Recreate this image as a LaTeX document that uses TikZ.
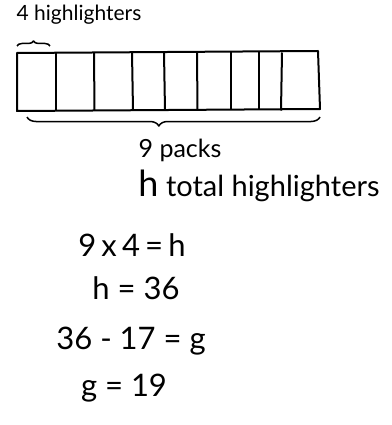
\documentclass[tikz,border=0pt]{standalone}
\usepackage{fontspec}
\setmainfont{Lato}
\usetikzlibrary{decorations.pathreplacing}
\begin{document}
\begin{tikzpicture}[x=1pt,y=1pt,line width=2pt,line join=round,
    label/.style={inner sep=0pt,font=\fontsize{21}{24}\selectfont},
    eqn/.style={inner sep=0pt,font=\fontsize{31}{34}\selectfont}]
    \useasboundingbox (0,0) rectangle (391,-425);

    % Bar of packs
    \draw (17,-53) -- (318,-51) -- (320,-109) -- (17,-111) -- cycle;
    \foreach \x/\d in {56/0, 94/0.5, 132/1, 164/1, 197/0.5, 231/0, 259/0, 282/-1}
        \draw (\x,-52.5) -- (\x+\d,-110.5);

    % Braces
    \draw[line width=1.5pt,decorate,decoration={brace,amplitude=5pt}] (17,-46) -- (50,-46);
    \draw[line width=1.5pt,decorate,decoration={brace,amplitude=9pt,aspect=0.55}] (320,-117) -- (27,-117);

    % Labels
    \node[label] (per) at (79,-15) {4 highlighters};
    \node[label,font=\fontsize{25}{28}\selectfont] (packs) at (180,-150) {9 packs};
    \node[label,font=\fontsize{29}{32}\selectfont] (total) at (259,-186) {{\fontsize{36}{40}\selectfont h} total highlighters};

    % Equations
    \node[eqn] (eq1) at (132,-245) {9\,x\,4\,=\,h};
    \node[eqn] (eq2) at (136,-288) {h = 36};
    \node[eqn] (eq3) at (131,-341) {36 - 17 = g};
    \node[eqn] (eq4) at (124,-388) {g = 19};
\end{tikzpicture}
\end{document}
